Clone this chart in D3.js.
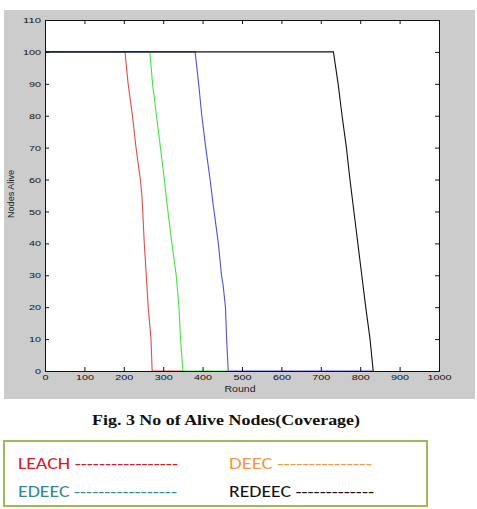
<!DOCTYPE html>
<html>
<head>
<meta charset="utf-8">
<script src="https://cdn.jsdelivr.net/npm/d3@7"></script>
<style>
	body { margin: 0; background: #fff; }
	svg { display: block; }
</style>
</head>
<body>
<svg id="fig" width="477" height="509"></svg>
<script>
const leachRounds = [0, 203, 211, 222, 231, 242, 246, 252, 257, 262, 269, 272, 350];
const leachAlive  = [100, 100, 90, 80, 70, 60, 55, 40, 30, 20, 10, 0, 0];

const edeecRounds = [0, 266, 273, 283, 293, 303, 310, 322, 333, 340, 344, 350, 465];
const edeecAlive  = [100, 100, 90, 80, 70, 60, 52, 40, 30, 20, 10, 0, 0];

const deecRounds = [0, 381, 390, 398, 408, 419, 427, 440, 448, 452, 458, 461, 465, 835];
const deecAlive  = [100, 100, 90, 80, 70, 60, 52, 40, 30, 27, 20, 10, 0, 0];

const redeecRounds = [0, 732, 744, 754, 765, 774, 779, 794, 804, 814, 825, 833];
const redeecAlive  = [100, 100, 90, 80, 70, 60, 55, 40, 30, 20, 10, 0];

const xTicks = [0, 100, 200, 300, 400, 500, 600, 700, 800, 900, 1000];
const yTicks = [0, 10, 20, 30, 40, 50, 60, 70, 80, 90, 100, 110];

const plotColors = ["#e84a4a", "#44e444", "#5050e0", "#111111"];

const legendItems = [
	{ label: "LEACH -----------------", color: "#e3141c", col: 0, row: 0, width: 160 },
	{ label: "DEEC ---------------", color: "#f79646", col: 1, row: 0, width: 143 },
	{ label: "EDEEC -----------------", color: "#31859c", col: 0, row: 1, width: 159 },
	{ label: "REDEEC -------------", color: "#111111", col: 1, row: 1, width: 145 }
];

const svg = d3.select("#fig");

// gray matlab figure background
svg.append("rect")
	.attr("x", 4).attr("y", 10)
	.attr("width", 471).attr("height", 389)
	.attr("fill", "#cccccc");

const plotLeft = 45, plotRight = 439, plotTop = 20, plotBottom = 371;

const x = d3.scaleLinear().domain([0, 1000]).range([plotLeft, plotRight]);
const y = d3.scaleLinear().domain([0, 110]).range([plotBottom, plotTop]);

svg.append("rect")
	.attr("x", plotLeft).attr("y", plotTop)
	.attr("width", plotRight - plotLeft).attr("height", plotBottom - plotTop)
	.attr("fill", "#fff");

const series = [
	[leachRounds, leachAlive],
	[edeecRounds, edeecAlive],
	[deecRounds, deecAlive],
	[redeecRounds, redeecAlive]
];

const line = d3.line()
	.x(d => x(d[0]))
	.y(d => y(d[1]));

series.forEach((s, i) => {
	const pts = s[0].map((r, j) => [r, s[1][j]]);
	svg.append("path")
		.datum(pts)
		.attr("d", line)
		.attr("fill", "none")
		.attr("stroke", plotColors[i])
		.attr("stroke-width", 1.1);
});

// the matlab screen font is wide and short, so stretch each label
const tickFont = g => g.selectAll("text")
	.attr("font-family", "Liberation Sans, Arial, sans-serif")
	.attr("font-size", 8)
	.attr("fill", "#111")
	.attr("textLength", d => 6 * String(d).length)
	.attr("lengthAdjust", "spacingAndGlyphs");

svg.append("g")
	.attr("transform", "translate(0," + plotBottom + ")")
	.call(d3.axisBottom(x).tickValues(xTicks).tickSize(-4).tickPadding(3).tickFormat(d3.format("d")))
	.call(tickFont);

svg.append("g")
	.attr("transform", "translate(" + plotLeft + ",0)")
	.call(d3.axisLeft(y).tickValues(yTicks).tickSize(-4).tickPadding(4).tickFormat(d3.format("d")))
	.call(tickFont);

svg.append("g")
	.attr("transform", "translate(0," + plotTop + ")")
	.call(d3.axisTop(x).tickValues(xTicks).tickSize(-4).tickFormat(""));

svg.append("g")
	.attr("transform", "translate(" + plotRight + ",0)")
	.call(d3.axisRight(y).tickValues(yTicks).tickSize(-4).tickFormat(""));

svg.selectAll(".domain").attr("stroke", "#111");
svg.selectAll(".tick line").attr("stroke", "#111");

svg.append("text")
	.attr("x", 240).attr("y", 392)
	.attr("text-anchor", "middle")
	.attr("font-family", "Liberation Sans, Arial, sans-serif")
	.attr("font-size", 8.5)
	.attr("fill", "#222")
	.attr("textLength", 31)
	.attr("lengthAdjust", "spacingAndGlyphs")
	.text("Round");

svg.append("text")
	.attr("transform", "translate(14,194) rotate(-90)")
	.attr("text-anchor", "middle")
	.attr("font-family", "Liberation Sans, Arial, sans-serif")
	.attr("font-size", 8.5)
	.attr("fill", "#222")
	.attr("textLength", 48)
	.attr("lengthAdjust", "spacingAndGlyphs")
	.text("Nodes Alive");

// caption
svg.append("text")
	.attr("x", 226).attr("y", 425)
	.attr("text-anchor", "middle")
	.attr("font-family", "Liberation Serif, Times New Roman, serif")
	.attr("font-weight", "bold")
	.attr("font-size", 15.5)
	.attr("fill", "#111")
	.attr("textLength", 268)
	.attr("lengthAdjust", "spacingAndGlyphs")
	.text("Fig. 3 No of Alive Nodes(Coverage)");

// legend box
svg.append("rect")
	.attr("x", 4).attr("y", 441)
	.attr("width", 423).attr("height", 65)
	.attr("fill", "#fff")
	.attr("stroke", "#9bbb59")
	.attr("stroke-width", 2);

svg.selectAll(".legend-item")
	.data(legendItems)
	.enter()
	.append("text")
	.classed("legend-item", true)
	.attr("x", d => d.col === 0 ? 18 : 229)
	.attr("y", d => d.row === 0 ? 469 : 497)
	.attr("font-family", "Carlito, Lato, sans-serif")
	.attr("font-size", 17)
	.attr("fill", d => d.color)
	.attr("textLength", d => d.width)
	.attr("lengthAdjust", "spacingAndGlyphs")
	.text(d => d.label);
</script>
</body>
</html>
